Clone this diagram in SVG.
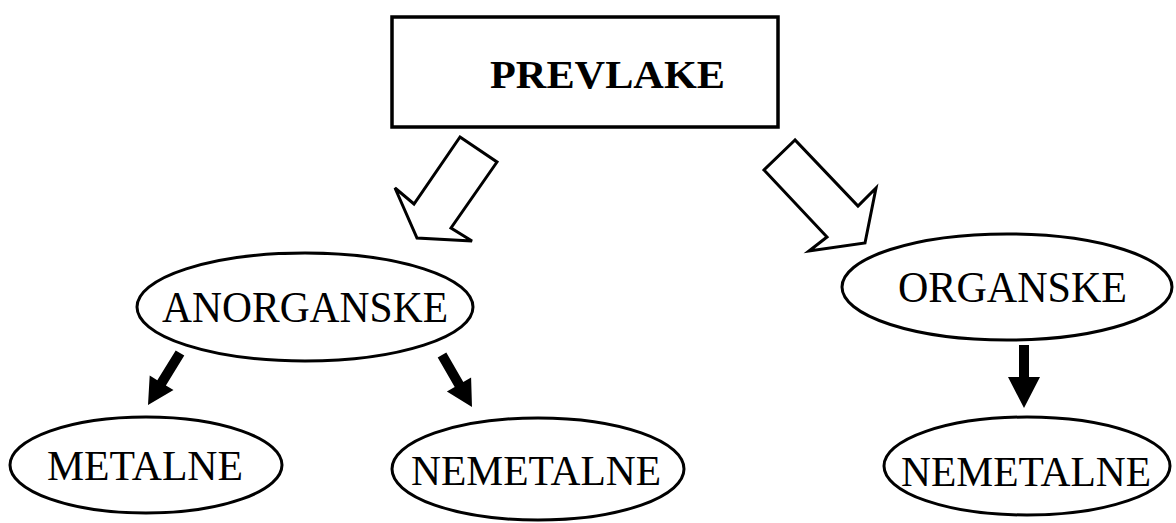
<svg xmlns="http://www.w3.org/2000/svg" width="1176" height="523" viewBox="0 0 1176 523">
<style>
.box{fill:#fff;stroke:#000;stroke-width:3.5}
.ell{fill:#fff;stroke:#000;stroke-width:3}
.hollow{fill:#fff;stroke:#000;stroke-width:3;stroke-linejoin:miter}
.solid{fill:#000;stroke:none}
.t{font-family:"Liberation Serif","Times New Roman",serif;fill:#000;text-anchor:start}
.tb{font-weight:bold}
</style>
<rect width="1176" height="523" fill="#fff"/>
<g id="prevlake">
<rect class="box" x="392" y="17" width="386" height="110"/>
<text class="t tb" x="490" y="88" font-size="40" textLength="235" lengthAdjust="spacingAndGlyphs">PREVLAKE</text>
</g>
<g id="anorganske">
<ellipse class="ell" cx="305" cy="307" rx="168" ry="54"/>
<text class="t" x="162" y="322" font-size="44" textLength="286" lengthAdjust="spacingAndGlyphs">ANORGANSKE</text>
</g>
<g id="organske">
<ellipse class="ell" cx="1007" cy="287" rx="165" ry="53"/>
<text class="t" x="898" y="302" font-size="44" textLength="229" lengthAdjust="spacingAndGlyphs">ORGANSKE</text>
</g>
<g id="metalne">
<ellipse class="ell" cx="146" cy="465" rx="136" ry="48"/>
<text class="t" x="47" y="480" font-size="42" textLength="196" lengthAdjust="spacingAndGlyphs">METALNE</text>
</g>
<g id="nemetalne-left">
<ellipse class="ell" cx="538" cy="469" rx="146" ry="51"/>
<text class="t" x="411" y="485" font-size="42" textLength="250" lengthAdjust="spacingAndGlyphs">NEMETALNE</text>
</g>
<g id="nemetalne-right">
<ellipse class="ell" cx="1027" cy="466" rx="143" ry="49"/>
<text class="t" x="901" y="486" font-size="42" textLength="250" lengthAdjust="spacingAndGlyphs">NEMETALNE</text>
</g>
<g id="connectors">
<polygon class="hollow" points="460,137 497,162 451,228 472,241 417,238 395,188 414,204"/>
<polygon class="hollow" points="795,140 764,170 827,237 809,251 865,243 876,188 858,206"/>
<polygon class="solid" points="184.3,355.6 165.9,385.4 173.5,390.1 148,405 149.7,375.5 157.3,380.2 175.7,350.4"/>
<polygon class="solid" points="446.3,352.5 463.3,382 471.1,377.5 472,407 446.9,391.5 454.7,387 437.7,357.5"/>
<polygon class="solid" points="1019,345 1029,345 1029,377 1040,377 1024,408 1008,377 1019,377"/>
</g>
</svg>
